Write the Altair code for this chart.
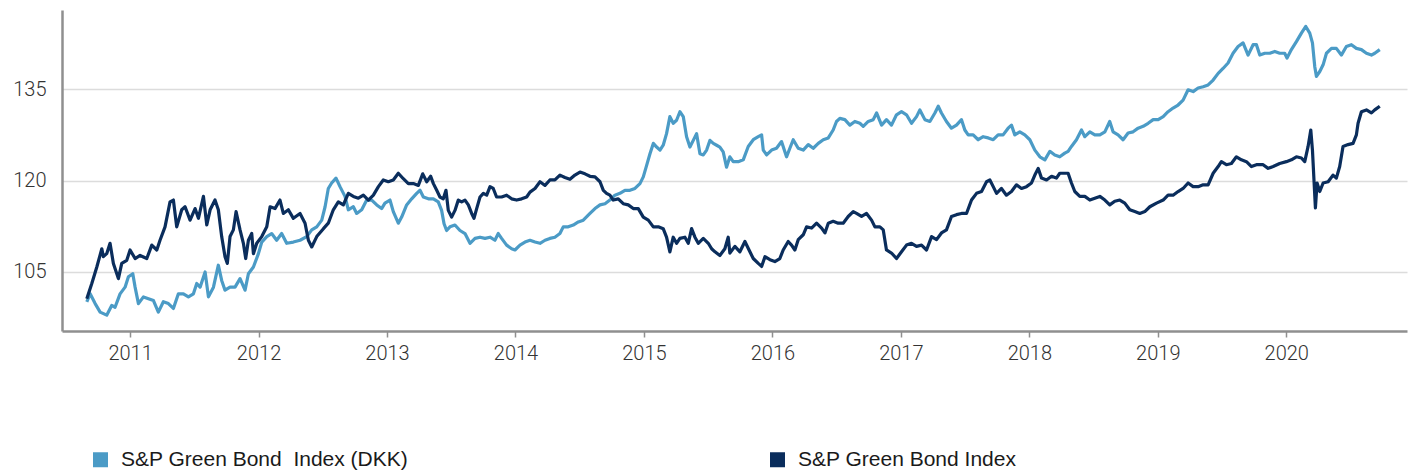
import altair as alt
import pandas as pd

# S&P Green Bond Index (DKK) - light blue
dkk_year = [
    2010.663, 2010.689, 2010.728, 2010.767, 2010.818, 2010.857, 2010.883, 2010.922, 2010.961, 2010.987,
    2011.021, 2011.039, 2011.065, 2011.104, 2011.143, 2011.182, 2011.220, 2011.259, 2011.298, 2011.337,
    2011.376, 2011.415, 2011.454, 2011.493, 2011.519, 2011.545, 2011.584, 2011.610, 2011.649, 2011.687,
    2011.713, 2011.739, 2011.778, 2011.817, 2011.856, 2011.895, 2011.921, 2011.960, 2011.999, 2012.025,
    2012.064, 2012.102, 2012.141, 2012.180, 2012.219, 2012.271, 2012.323, 2012.375, 2012.414, 2012.453,
    2012.492, 2012.518, 2012.543, 2012.569, 2012.603, 2012.634, 2012.673, 2012.699, 2012.738, 2012.764,
    2012.803, 2012.842, 2012.881, 2012.920, 2012.958, 2012.984, 2013.023, 2013.049, 2013.088, 2013.114,
    2013.153, 2013.192, 2013.231, 2013.257, 2013.283, 2013.322, 2013.361, 2013.399, 2013.425, 2013.444,
    2013.464, 2013.490, 2013.529, 2013.568, 2013.607, 2013.646, 2013.685, 2013.724, 2013.763, 2013.802,
    2013.840, 2013.866, 2013.892, 2013.931, 2013.970, 2013.996, 2014.035, 2014.074, 2014.113, 2014.152,
    2014.191, 2014.230, 2014.268, 2014.307, 2014.346, 2014.372, 2014.411, 2014.450, 2014.489, 2014.528,
    2014.580, 2014.619, 2014.658, 2014.697, 2014.735, 2014.774, 2014.813, 2014.852, 2014.891, 2014.930,
    2014.969, 2014.995, 2015.021, 2015.047, 2015.073, 2015.099, 2015.125, 2015.150, 2015.176, 2015.202,
    2015.228, 2015.254, 2015.280, 2015.306, 2015.332, 2015.358, 2015.384, 2015.410, 2015.436, 2015.462,
    2015.488, 2015.514, 2015.540, 2015.566, 2015.591, 2015.617, 2015.643, 2015.669, 2015.695, 2015.734,
    2015.773, 2015.812, 2015.851, 2015.890, 2015.916, 2015.929, 2015.955, 2015.994, 2016.032, 2016.071,
    2016.110, 2016.136, 2016.162, 2016.201, 2016.240, 2016.279, 2016.318, 2016.357, 2016.396, 2016.435,
    2016.473, 2016.499, 2016.525, 2016.564, 2016.603, 2016.642, 2016.681, 2016.707, 2016.746, 2016.785,
    2016.811, 2016.850, 2016.888, 2016.927, 2016.966, 2017.005, 2017.044, 2017.083, 2017.122, 2017.148,
    2017.187, 2017.226, 2017.265, 2017.291, 2017.316, 2017.355, 2017.394, 2017.433, 2017.472, 2017.498,
    2017.524, 2017.563, 2017.602, 2017.641, 2017.680, 2017.719, 2017.757, 2017.796, 2017.835, 2017.861,
    2017.887, 2017.926, 2017.965, 2018.004, 2018.043, 2018.082, 2018.121, 2018.160, 2018.198, 2018.237,
    2018.276, 2018.302, 2018.328, 2018.367, 2018.406, 2018.432, 2018.471, 2018.510, 2018.549, 2018.588,
    2018.626, 2018.652, 2018.691, 2018.730, 2018.769, 2018.808, 2018.847, 2018.886, 2018.925, 2018.964,
    2019.003, 2019.042, 2019.080, 2019.119, 2019.158, 2019.197, 2019.236, 2019.275, 2019.314, 2019.353,
    2019.392, 2019.431, 2019.470, 2019.508, 2019.547, 2019.586, 2019.625, 2019.664, 2019.703, 2019.742,
    2019.768, 2019.794, 2019.833, 2019.872, 2019.911, 2019.949, 2019.988, 2020.006, 2020.040, 2020.079,
    2020.118, 2020.152, 2020.183, 2020.204, 2020.222, 2020.235, 2020.261, 2020.287, 2020.313, 2020.352,
    2020.390, 2020.429, 2020.468, 2020.507, 2020.546, 2020.585, 2020.624, 2020.663, 2020.689, 2020.728,
]
dkk_value = [
    100.1, 101.4, 99.8, 98.4, 97.9, 99.5, 99.2, 101.4, 102.5, 104.2,
    104.7, 102.5, 99.8, 100.9, 100.6, 100.3, 98.4, 100.1, 99.8, 99.0,
    101.4, 101.4, 100.9, 101.4, 103.1, 102.5, 105.0, 100.9, 102.5, 106.1,
    103.6, 102.0, 102.5, 102.5, 103.9, 102.0, 104.7, 105.8, 108.0, 109.9,
    110.8, 111.3, 110.2, 111.3, 109.7, 109.9, 110.2, 110.8, 111.9, 112.4,
    113.5, 115.7, 118.7, 119.6, 120.4, 119.0, 117.4, 115.2, 115.7, 114.6,
    115.2, 116.8, 116.8, 116.0, 115.4, 116.3, 116.8, 114.9, 113.0, 114.0,
    116.0, 117.0, 117.9, 118.4, 117.3, 117.0, 117.0, 116.5, 115.1, 112.9,
    111.8, 112.4, 112.7, 111.8, 111.3, 109.7, 110.5, 110.7, 110.5, 110.7,
    110.2, 111.3, 110.5, 109.4, 108.8, 108.6, 109.4, 109.9, 110.2, 109.9,
    109.7, 110.2, 110.5, 110.7, 111.3, 112.4, 112.4, 112.7, 113.2, 113.5,
    114.6, 115.4, 116.0, 116.2, 116.8, 117.6, 117.9, 118.4, 118.4, 118.7,
    119.5, 120.6, 122.5, 124.4, 126.1, 125.5, 125.0, 125.8, 127.7, 130.5,
    129.4, 129.9, 131.3, 130.5, 127.2, 125.5, 126.6, 127.7, 124.4, 124.2,
    125.0, 126.6, 126.1, 125.8, 125.5, 124.7, 122.2, 123.9, 123.1, 123.1,
    123.4, 125.6, 126.7, 127.2, 127.5, 125.0, 124.2, 125.0, 125.3, 126.4,
    123.9, 125.3, 126.7, 125.3, 125.0, 125.9, 125.3, 126.1, 126.7, 127.0,
    128.3, 129.7, 130.2, 130.0, 129.1, 129.7, 129.4, 128.9, 129.7, 130.0,
    131.1, 129.1, 130.0, 129.1, 130.8, 131.3, 130.8, 129.4, 130.5, 131.6,
    130.0, 129.7, 131.1, 132.2, 131.1, 129.7, 128.6, 129.1, 130.0, 128.3,
    127.5, 127.5, 126.7, 127.2, 127.0, 126.7, 127.5, 127.5, 128.6, 129.1,
    127.5, 128.0, 127.5, 126.7, 125.0, 123.9, 123.4, 124.8, 124.2, 123.9,
    124.5, 124.8, 125.6, 126.7, 128.3, 127.2, 128.0, 127.5, 127.5, 128.0,
    129.7, 128.0, 127.5, 126.7, 127.8, 128.0, 128.6, 128.9, 129.4, 130.0,
    130.0, 130.5, 131.3, 131.9, 132.4, 133.2, 134.9, 134.6, 135.2, 135.4,
    135.7, 136.5, 137.6, 138.4, 139.3, 140.9, 142.0, 142.6, 140.6, 142.3,
    142.3, 140.6, 140.9, 140.9, 141.2, 140.9, 140.9, 140.1, 141.5, 142.8,
    144.2, 145.3, 144.2, 142.6, 138.7, 137.1, 137.9, 139.0, 140.9, 141.7,
    141.7, 140.6, 142.0, 142.3, 141.7, 141.5, 140.9, 140.6, 140.9, 141.5,
]

# S&P Green Bond Index - navy
gb_year = [
    2010.663, 2010.702, 2010.741, 2010.780, 2010.792, 2010.818, 2010.844, 2010.870, 2010.909, 2010.935,
    2010.974, 2011.000, 2011.039, 2011.078, 2011.130, 2011.169, 2011.208, 2011.233, 2011.272, 2011.311,
    2011.337, 2011.363, 2011.402, 2011.428, 2011.467, 2011.506, 2011.532, 2011.571, 2011.597, 2011.623,
    2011.661, 2011.687, 2011.713, 2011.739, 2011.757, 2011.778, 2011.804, 2011.825, 2011.856, 2011.882,
    2011.900, 2011.921, 2011.947, 2011.960, 2011.986, 2012.025, 2012.064, 2012.090, 2012.128, 2012.167,
    2012.193, 2012.232, 2012.271, 2012.323, 2012.362, 2012.388, 2012.414, 2012.453, 2012.505, 2012.543,
    2012.582, 2012.621, 2012.660, 2012.699, 2012.738, 2012.777, 2012.816, 2012.855, 2012.894, 2012.933,
    2012.971, 2013.010, 2013.049, 2013.088, 2013.127, 2013.166, 2013.205, 2013.244, 2013.278, 2013.309,
    2013.340, 2013.361, 2013.387, 2013.412, 2013.438, 2013.459, 2013.477, 2013.503, 2013.529, 2013.555,
    2013.581, 2013.607, 2013.633, 2013.659, 2013.677, 2013.698, 2013.724, 2013.750, 2013.776, 2013.802,
    2013.827, 2013.853, 2013.892, 2013.931, 2013.970, 2014.009, 2014.048, 2014.087, 2014.113, 2014.152,
    2014.191, 2014.230, 2014.268, 2014.307, 2014.346, 2014.385, 2014.424, 2014.463, 2014.502, 2014.541,
    2014.580, 2014.619, 2014.658, 2014.684, 2014.709, 2014.735, 2014.761, 2014.800, 2014.839, 2014.878,
    2014.917, 2014.956, 2014.995, 2015.034, 2015.073, 2015.112, 2015.150, 2015.176, 2015.202, 2015.228,
    2015.254, 2015.280, 2015.319, 2015.345, 2015.371, 2015.397, 2015.423, 2015.462, 2015.501, 2015.527,
    2015.553, 2015.591, 2015.630, 2015.656, 2015.669, 2015.708, 2015.747, 2015.786, 2015.825, 2015.851,
    2015.890, 2015.916, 2015.942, 2015.981, 2016.019, 2016.058, 2016.084, 2016.123, 2016.149, 2016.175,
    2016.201, 2016.240, 2016.266, 2016.305, 2016.344, 2016.383, 2016.409, 2016.435, 2016.473, 2016.512,
    2016.551, 2016.590, 2016.629, 2016.655, 2016.694, 2016.733, 2016.772, 2016.798, 2016.837, 2016.863,
    2016.888, 2016.927, 2016.966, 2017.005, 2017.044, 2017.083, 2017.122, 2017.161, 2017.200, 2017.239,
    2017.278, 2017.316, 2017.355, 2017.394, 2017.433, 2017.472, 2017.511, 2017.550, 2017.589, 2017.628,
    2017.667, 2017.693, 2017.719, 2017.745, 2017.783, 2017.822, 2017.861, 2017.900, 2017.939, 2017.978,
    2018.017, 2018.043, 2018.069, 2018.095, 2018.134, 2018.173, 2018.211, 2018.237, 2018.276, 2018.302,
    2018.328, 2018.354, 2018.393, 2018.432, 2018.471, 2018.510, 2018.549, 2018.588, 2018.626, 2018.665,
    2018.704, 2018.743, 2018.782, 2018.821, 2018.860, 2018.899, 2018.938, 2018.990, 2019.042, 2019.080,
    2019.119, 2019.158, 2019.197, 2019.236, 2019.275, 2019.314, 2019.353, 2019.392, 2019.431, 2019.470,
    2019.495, 2019.534, 2019.573, 2019.612, 2019.651, 2019.690, 2019.729, 2019.768, 2019.820, 2019.859,
    2019.898, 2019.949, 2020.001, 2020.040, 2020.079, 2020.118, 2020.144, 2020.170, 2020.191, 2020.204,
    2020.217, 2020.227, 2020.240, 2020.261, 2020.287, 2020.326, 2020.364, 2020.390, 2020.416, 2020.442,
    2020.481, 2020.520, 2020.546, 2020.559, 2020.585, 2020.624, 2020.663, 2020.689, 2020.728,
]
gb_value = [
    100.6, 103.1, 105.8, 108.8, 107.5, 108.0, 109.7, 106.4, 103.9, 106.4,
    106.9, 108.6, 107.2, 107.7, 107.2, 109.4, 108.6, 110.2, 112.4, 116.5,
    116.8, 112.4, 115.2, 115.7, 113.5, 115.4, 113.8, 117.4, 112.7, 115.2,
    116.8, 115.2, 110.8, 107.5, 106.4, 110.8, 111.9, 114.9, 111.9, 109.7,
    107.2, 110.2, 111.3, 108.0, 109.7, 110.8, 112.4, 115.7, 115.4, 116.8,
    114.6, 115.2, 113.8, 114.6, 113.0, 110.2, 109.1, 110.8, 112.1, 113.0,
    115.2, 116.5, 116.0, 117.9, 117.4, 117.1, 117.6, 116.8, 117.6, 119.0,
    120.1, 119.8, 120.1, 121.2, 120.3, 119.5, 119.5, 119.2, 121.1, 119.8,
    120.7, 119.5, 118.4, 117.3, 117.0, 118.4, 115.1, 114.0, 115.1, 116.8,
    116.5, 116.8, 116.0, 114.6, 113.8, 115.4, 117.3, 117.9, 117.6, 119.0,
    118.7, 117.3, 117.3, 117.6, 117.0, 116.8, 117.0, 117.3, 118.1, 118.7,
    119.8, 119.2, 120.1, 120.1, 120.9, 120.5, 120.2, 120.9, 121.4, 121.1,
    120.7, 120.6, 119.8, 118.4, 117.9, 117.6, 116.8, 117.0, 116.2, 116.0,
    115.4, 115.4, 114.0, 113.5, 112.4, 112.4, 112.1, 110.7, 108.3, 110.7,
    109.7, 110.5, 110.7, 109.7, 112.1, 110.7, 109.7, 110.5, 109.7, 108.8,
    108.3, 107.7, 108.8, 110.7, 108.1, 109.2, 108.3, 110.0, 108.3, 107.2,
    106.4, 105.9, 107.5, 107.0, 106.7, 107.2, 108.6, 110.0, 109.4, 108.6,
    110.3, 111.1, 112.4, 112.2, 113.0, 112.2, 111.4, 113.0, 113.3, 113.0,
    113.0, 114.1, 114.9, 114.6, 114.1, 114.6, 113.5, 112.4, 112.4, 111.9,
    108.6, 108.1, 107.2, 108.3, 109.4, 109.7, 109.2, 109.4, 108.6, 110.8,
    110.3, 111.4, 111.9, 114.1, 114.4, 114.6, 114.6, 116.8, 117.9, 118.2,
    119.8, 120.1, 119.0, 117.9, 118.7, 117.6, 118.2, 119.3, 118.7, 119.0,
    119.6, 120.9, 122.0, 120.4, 120.1, 120.7, 120.4, 121.2, 121.2, 121.2,
    119.6, 118.2, 117.4, 117.4, 116.8, 117.1, 117.4, 116.8, 116.0, 116.6,
    116.8, 116.3, 115.2, 114.9, 114.6, 114.9, 115.7, 116.3, 116.8, 117.6,
    117.6, 118.2, 118.7, 119.6, 119.0, 119.0, 119.3, 119.3, 121.2, 122.3,
    123.1, 122.6, 122.8, 123.9, 123.4, 123.1, 122.3, 122.6, 122.6, 122.0,
    122.3, 122.8, 123.1, 123.4, 123.9, 123.7, 123.1, 125.6, 128.3, 125.0,
    119.6, 115.5, 119.6, 118.2, 119.6, 119.8, 120.9, 120.4, 122.3, 125.6,
    125.9, 126.1, 127.5, 129.4, 131.3, 131.6, 131.1, 131.6, 132.2,
]

series_names = ["S&P Green Bond\u00a0 Index (DKK)", "S&P Green Bond Index"]
series_colors = ["#4b9bc6", "#0a2d5c"]
year_ticks = [2011, 2012, 2013, 2014, 2015, 2016, 2017, 2018, 2019, 2020]
value_ticks = [105, 120, 135]

df_dkk = pd.DataFrame({"year": dkk_year, "value": dkk_value, "series": series_names[0]})
df_gb = pd.DataFrame({"year": gb_year, "value": gb_value, "series": series_names[1]})

FONT = "Roboto"
LEGEND_FONT = "Liberation Sans"
AXIS_GRAY = "#8f8f8f"

x_enc = alt.X(
    "year:Q",
    scale=alt.Scale(domain=[2010.47, 2020.94], nice=False, zero=False),
    axis=alt.Axis(
        values=year_ticks, format="d", title=None, grid=False,
        domainColor=AXIS_GRAY, domainWidth=2.5, tickColor=AXIS_GRAY, tickWidth=1.5,
        tickSize=6, labelFontSize=20, labelFontWeight=300, labelColor="#333333",
        labelPadding=6, labelFont=FONT,
    ),
)
y_enc = alt.Y(
    "value:Q",
    scale=alt.Scale(domain=[95.3, 148], nice=False, zero=False),
    axis=alt.Axis(
        values=value_ticks, title=None, grid=True, gridColor="#dcdcdc", gridWidth=1.5,
        domainColor=AXIS_GRAY, domainWidth=2.5, ticks=False, labelFontSize=20,
        labelFontWeight=300, labelColor="#333333", labelPadding=16, labelFont=FONT,
    ),
)
color_enc = alt.Color(
    "series:N",
    scale=alt.Scale(domain=series_names, range=series_colors),
    sort=series_names,
    legend=alt.Legend(
        title=None, orient="none", legendX=28, legendY=439, direction="horizontal",
        symbolType="square", symbolSize=4, symbolStrokeWidth=13, labelFontSize=21,
        labelFont=LEGEND_FONT, labelColor="#1a1a1a", labelOffset=10, columnPadding=341,
        labelLimit=0, padding=0,
    ),
)

line_dkk = alt.Chart(df_dkk).mark_line(strokeWidth=3.2, strokeJoin="round").encode(
    x=x_enc, y=y_enc, color=color_enc
)
line_gb = alt.Chart(df_gb).mark_line(strokeWidth=3.2, strokeJoin="round").encode(
    x=x_enc, y=y_enc, color=color_enc
)

chart = alt.layer(line_dkk, line_gb).properties(
    width=1345, height=321,
    autosize=alt.AutoSizeParams(type="none"),
    padding={"left": 62, "top": 10, "right": 6, "bottom": 141},
).configure_view(stroke=None)

chart.save("out.html", embed_options={"renderer": "svg", "actions": False})
